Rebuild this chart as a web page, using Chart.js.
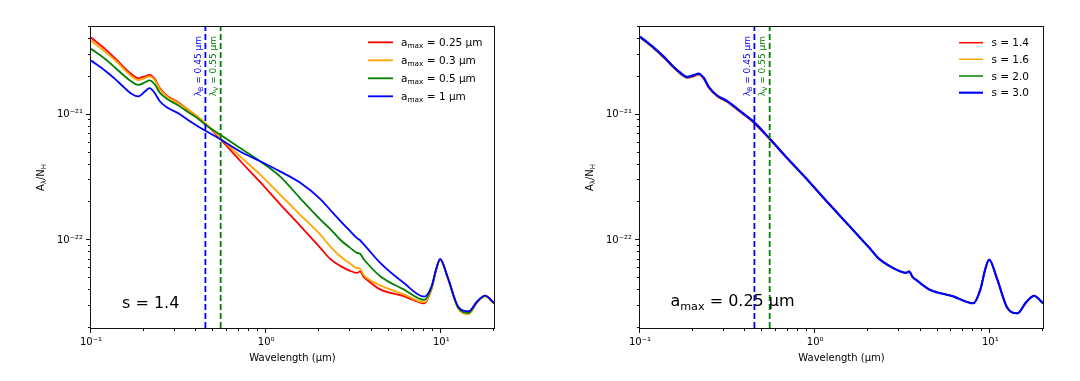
<!DOCTYPE html>
<html>
<head>
<meta charset="utf-8">
<script src="https://cdn.jsdelivr.net/npm/chart.js@4.4.1/dist/chart.umd.min.js"></script>
<style>
  body { margin: 0; background: #fff; }
  #wrap { position: relative; width: 1080px; height: 381px; }
  canvas { position: absolute; top: 0; }
  #left { left: 0; }
  #right { left: 540px; }
</style>
</head>
<body>
<div id="wrap">
  <canvas id="left" width="540" height="381"></canvas>
  <canvas id="right" width="540" height="381"></canvas>
</div>
<script>
// ===== DATA =====
const wavelength = [0.100, 0.120, 0.137, 0.156, 0.170, 0.186, 0.203, 0.216, 0.231, 0.247,
  0.275, 0.314, 0.358, 0.409, 0.450, 0.553, 0.710, 0.925, 1.20, 1.56,
  2.04, 2.32, 2.65, 3.02, 3.30, 3.44, 3.60, 3.76, 4.48, 6.10,
  8.00, 8.80, 9.35, 9.85, 10.9, 12.5, 14.3, 16.0, 17.8, 20.0];

// left panel, s = 1.4
const amax025 = [4.12e-21, 3.35e-21, 2.83e-21, 2.35e-21, 2.11e-21, 1.96e-21, 2.02e-21, 2.08e-21, 1.93e-21, 1.63e-21,
  1.40e-21, 1.26e-21, 1.10e-21, 9.5e-22, 8.5e-22, 6.3e-22, 4.3e-22, 2.9e-22, 1.94e-22, 1.31e-22,
  8.7e-23, 7.1e-23, 6.25e-23, 5.7e-23, 5.5e-23, 5.65e-23, 5.1e-23, 4.85e-23, 4.06e-23, 3.59e-23,
  3.15e-23, 4.1e-23, 5.85e-23, 7.0e-23, 5.0e-23, 2.9e-23, 2.62e-23, 3.2e-23, 3.6e-23, 3.15e-23];
const amax03 = [3.90e-21, 3.18e-21, 2.72e-21, 2.27e-21, 2.03e-21, 1.89e-21, 1.96e-21, 2.02e-21, 1.89e-21, 1.60e-21,
  1.38e-21, 1.24e-21, 1.10e-21, 9.6e-22, 8.56e-22, 6.45e-22, 4.66e-22, 3.33e-22, 2.31e-22, 1.60e-22,
  1.11e-22, 8.95e-23, 7.46e-23, 6.5e-23, 6.0e-23, 5.95e-23, 5.3e-23, 5.0e-23, 4.37e-23, 3.71e-23,
  3.2e-23, 4.1e-23, 5.8e-23, 6.95e-23, 4.9e-23, 2.85e-23, 2.58e-23, 3.18e-23, 3.58e-23, 3.12e-23];
const amax05 = [3.35e-21, 2.79e-21, 2.38e-21, 2.02e-21, 1.84e-21, 1.73e-21, 1.81e-21, 1.88e-21, 1.75e-21, 1.50e-21,
  1.32e-21, 1.19e-21, 1.05e-21, 9.3e-22, 8.33e-22, 6.85e-22, 5.43e-22, 4.26e-22, 3.23e-22, 2.17e-22,
  1.46e-22, 1.23e-22, 1.01e-22, 8.7e-23, 7.94e-23, 7.8e-23, 7.1e-23, 6.6e-23, 5.17e-23, 4.06e-23,
  3.35e-23, 4.2e-23, 5.85e-23, 7.05e-23, 5.0e-23, 2.9e-23, 2.64e-23, 3.22e-23, 3.6e-23, 3.15e-23];
const amax1 = [2.70e-21, 2.25e-21, 1.93e-21, 1.63e-21, 1.47e-21, 1.40e-21, 1.53e-21, 1.63e-21, 1.49e-21, 1.28e-21,
  1.13e-21, 1.03e-21, 9.1e-22, 8.07e-22, 7.46e-22, 6.33e-22, 5.1e-22, 4.26e-22, 3.54e-22, 2.88e-22,
  2.13e-22, 1.75e-22, 1.43e-22, 1.18e-22, 1.04e-22, 1.0e-22, 9.3e-23, 8.7e-23, 6.6e-23, 4.58e-23,
  3.55e-23, 4.3e-23, 5.9e-23, 7.1e-23, 5.05e-23, 2.95e-23, 2.72e-23, 3.25e-23, 3.62e-23, 3.17e-23];

// right panel, a_max = 0.25 um (s = 1.4 is the same model as amax025)
const s16 = [4.15e-21, 3.37e-21, 2.85e-21, 2.37e-21, 2.13e-21, 1.97e-21, 2.04e-21, 2.10e-21, 1.95e-21, 1.65e-21,
  1.41e-21, 1.27e-21, 1.11e-21, 9.6e-22, 8.6e-22, 6.35e-22, 4.32e-22, 2.91e-22, 1.94e-22, 1.31e-22,
  8.7e-23, 7.1e-23, 6.25e-23, 5.7e-23, 5.5e-23, 5.65e-23, 5.1e-23, 4.85e-23, 4.06e-23, 3.59e-23,
  3.15e-23, 4.1e-23, 5.85e-23, 7.0e-23, 5.0e-23, 2.9e-23, 2.62e-23, 3.2e-23, 3.6e-23, 3.15e-23];
const s20 = [4.17e-21, 3.39e-21, 2.87e-21, 2.38e-21, 2.14e-21, 1.98e-21, 2.05e-21, 2.11e-21, 1.96e-21, 1.66e-21,
  1.42e-21, 1.28e-21, 1.115e-21, 9.65e-22, 8.65e-22, 6.38e-22, 4.33e-22, 2.92e-22, 1.95e-22, 1.31e-22,
  8.7e-23, 7.1e-23, 6.25e-23, 5.7e-23, 5.5e-23, 5.65e-23, 5.1e-23, 4.85e-23, 4.06e-23, 3.59e-23,
  3.15e-23, 4.1e-23, 5.85e-23, 7.0e-23, 5.0e-23, 2.9e-23, 2.62e-23, 3.2e-23, 3.6e-23, 3.15e-23];
const s30 = [4.20e-21, 3.42e-21, 2.89e-21, 2.40e-21, 2.16e-21, 2.00e-21, 2.07e-21, 2.13e-21, 1.97e-21, 1.67e-21,
  1.43e-21, 1.29e-21, 1.12e-21, 9.7e-22, 8.7e-22, 6.4e-22, 4.35e-22, 2.93e-22, 1.95e-22, 1.31e-22,
  8.7e-23, 7.1e-23, 6.25e-23, 5.7e-23, 5.5e-23, 5.65e-23, 5.1e-23, 4.85e-23, 4.06e-23, 3.59e-23,
  3.15e-23, 4.1e-23, 5.85e-23, 7.0e-23, 5.0e-23, 2.9e-23, 2.62e-23, 3.2e-23, 3.6e-23, 3.15e-23];

const amaxLabels = ['0.25', '0.3', '0.5', '1'];
const sLabels = ['1.4', '1.6', '2.0', '3.0'];
const colors = ['#ff0000', '#ffa500', '#008000', '#0000ff'];

const xMin = 0.1, xMax = 20;
const yMin = 2e-23, yMax = 5e-21;
const xTicks = [0.1, 1, 10];
const xTickLabels = ['10⁻¹', '10⁰', '10¹'];
const yTicks = [1e-22, 1e-21];
const yTickLabels = ['10⁻²²', '10⁻²¹'];

const bandLines = [0.45, 0.55];
const bandColors = ['#0000ff', '#008000'];
const bandLabels = [['λ', {sub: 'B'}, ' = 0.45 µm'], ['λ', {sub: 'V'}, ' = 0.55 µm']];

const FONT = '"DejaVu Sans", sans-serif';

// ===== TEXT HELPERS =====
function measureRich(ctx, parts, size) {
  let w = 0;
  parts.forEach(p => {
    const sub = typeof p !== 'string';
    ctx.font = (sub ? size * 0.7 : size) + 'px ' + FONT;
    w += ctx.measureText(sub ? p.sub : p).width;
  });
  return w;
}
function drawRich(ctx, parts, x, y, size) {
  let cx = x;
  parts.forEach(p => {
    const sub = typeof p !== 'string';
    const t = sub ? p.sub : p;
    ctx.font = (sub ? size * 0.7 : size) + 'px ' + FONT;
    ctx.fillText(t, cx, sub ? y + size * 0.22 : y);
    cx += ctx.measureText(t).width;
  });
}

// ===== FRAME, TICKS, LEGEND, NOTES =====
const decor = {
  id: 'decor',
  afterDatasetsDraw(chart, args, o) {
    const {ctx, chartArea: a, scales: {x, y}} = chart;
    ctx.save();
    ctx.textAlign = 'left';
    ctx.textBaseline = 'alphabetic';

    // rotated labels next to the dashed lines
    bandLines.forEach((w, i) => {
      const px = x.getPixelForValue(w) - 7.8;
      ctx.fillStyle = bandColors[i];
      const tw = measureRich(ctx, bandLabels[i], 9);
      ctx.save();
      ctx.translate(px + 3.2, a.top + 9);
      ctx.rotate(-Math.PI / 2);
      drawRich(ctx, bandLabels[i], -tw, 0, 9);
      ctx.restore();
    });

    // axes frame
    ctx.strokeStyle = '#111';
    ctx.lineWidth = 1;
    ctx.strokeRect(a.left - 0.5, a.top - 0.5, a.right - a.left + 1, a.bottom - a.top + 1);

    // tick marks (major 5px, minor 3px)
    ctx.beginPath();
    [0.1, 1, 10].forEach(d => {
      for (let k = 1; k <= 9; k++) {
        const v = d * k;
        if (v < xMin - 1e-9 || v > xMax + 1e-9) continue;
        const px = Math.round(x.getPixelForValue(v)) - 0.5;
        ctx.moveTo(px, a.bottom); ctx.lineTo(px, a.bottom + (k === 1 ? 5 : 3));
      }
    });
    [1e-23, 1e-22, 1e-21].forEach(d => {
      for (let k = 1; k <= 9; k++) {
        const v = d * k;
        if (v < yMin * 0.999 || v > yMax * 1.001) continue;
        const py = Math.round(y.getPixelForValue(v)) - 0.5;
        ctx.moveTo(a.left, py); ctx.lineTo(a.left - (k === 1 ? 5 : 3), py);
      }
    });
    ctx.stroke();

    // y axis title
    ctx.fillStyle = '#000';
    const yt = ['A', {sub: 'λ'}, '/N', {sub: 'H'}];
    ctx.save();
    ctx.translate(a.left - 47.5, (a.top + a.bottom) / 2);
    ctx.rotate(-Math.PI / 2);
    drawRich(ctx, yt, -measureRich(ctx, yt, 10) / 2, 0, 10);
    ctx.restore();

    // legend
    const L = o.legend;
    L.items.forEach((it, i) => {
      const ry = L.rows[i];
      ctx.strokeStyle = it.color;
      ctx.lineWidth = it.width;
      ctx.beginPath();
      ctx.moveTo(L.x0, ry); ctx.lineTo(L.x1, ry);
      ctx.stroke();
      ctx.fillStyle = '#000';
      drawRich(ctx, it.parts, L.tx, ry + 3.7, 10.5);
    });

    // panel note
    ctx.fillStyle = '#000';
    drawRich(ctx, o.note.parts, o.note.x, o.note.y, 16);
    ctx.restore();
  }
};

// ===== CHART BUILDERS =====
function curve(values, color, width, order) {
  return {
    data: wavelength.map((w, i) => ({x: w, y: values[i]})),
    showLine: true, borderColor: color, backgroundColor: color, borderWidth: width,
    cubicInterpolationMode: 'monotone', borderJoinStyle: 'round', pointRadius: 0, order
  };
}
function vline(w, color) {
  return {
    data: [{x: w, y: yMin}, {x: w, y: yMax}],
    showLine: true, borderColor: color, borderWidth: 1.8, borderDash: [6, 3],
    tension: 0, pointRadius: 0, order: 0
  };
}

function makeChart(id, datasets, yWidth, padRight, decorOpts) {
  return new Chart(document.getElementById(id), {
    type: 'scatter',
    data: {datasets},
    options: {
      responsive: false,
      animation: false,
      layout: {padding: {left: 0, right: padRight, top: 27, bottom: 0}},
      elements: {point: {radius: 0, hoverRadius: 0}},
      plugins: {legend: {display: false}, tooltip: {enabled: false}, decor: decorOpts},
      scales: {
        x: {
          type: 'logarithmic', min: xMin, max: xMax,
          afterBuildTicks: s => { s.ticks = xTicks.map(v => ({value: v})); },
          afterFit: s => { s.height = 53; },
          grid: {display: false, drawTicks: false},
          border: {display: false},
          ticks: {autoSkip: false, maxRotation: 0, padding: 8, color: '#000',
            font: {family: FONT, size: 10}, callback: (v, i) => xTickLabels[i]},
          title: {display: true, text: 'Wavelength (µm)', color: '#000',
            font: {family: FONT, size: 10}, padding: {top: 0, bottom: 17}}
        },
        y: {
          type: 'logarithmic', min: yMin, max: yMax,
          afterBuildTicks: s => { s.ticks = yTicks.map(v => ({value: v})); },
          afterFit: s => { s.width = yWidth; },
          grid: {display: false, drawTicks: false},
          border: {display: false},
          ticks: {autoSkip: false, padding: 8, color: '#000',
            font: {family: FONT, size: 10}, callback: (v, i) => yTickLabels[i]}
        }
      }
    },
    plugins: [decor]
  });
}

// ===== LEFT: varying a_max, s = 1.4 =====
const leftSeries = [amax025, amax03, amax05, amax1];
makeChart('left', [
  ...leftSeries.map((v, i) => curve(v, colors[i], 1.8, 4 - i)),
  ...bandLines.map((w, i) => vline(w, bandColors[i]))
], 91, 46, {
  legend: {
    x0: 368, x1: 393, tx: 401, rows: [42.3, 60.3, 78.3, 96.3],
    items: amaxLabels.map((l, i) => ({color: colors[i], width: 1.8, parts: ['a', {sub: 'max'}, ' = ' + l + ' µm']}))
  },
  note: {x: 122, y: 308, parts: ['s = 1.4']}
});

// ===== RIGHT: varying s, a_max = 0.25 um =====
const rightSeries = [amax025, s16, s20, s30];
const rightWidths = [1.5, 1.5, 1.5, 2.2];
makeChart('right', [
  ...rightSeries.map((v, i) => curve(v, colors[i], rightWidths[i], 4 - i)),
  ...bandLines.map((w, i) => vline(w, bandColors[i]))
], 100, 37, {
  legend: {
    x0: 419, x1: 443, tx: 451.4, rows: [42.7, 59.3, 76, 92.7],
    items: sLabels.map((l, i) => ({color: colors[i], width: rightWidths[i], parts: ['s = ' + l]}))
  },
  note: {x: 130.4, y: 306, parts: ['a', {sub: 'max'}, ' = 0.25 µm']}
});
</script>
</body>
</html>
